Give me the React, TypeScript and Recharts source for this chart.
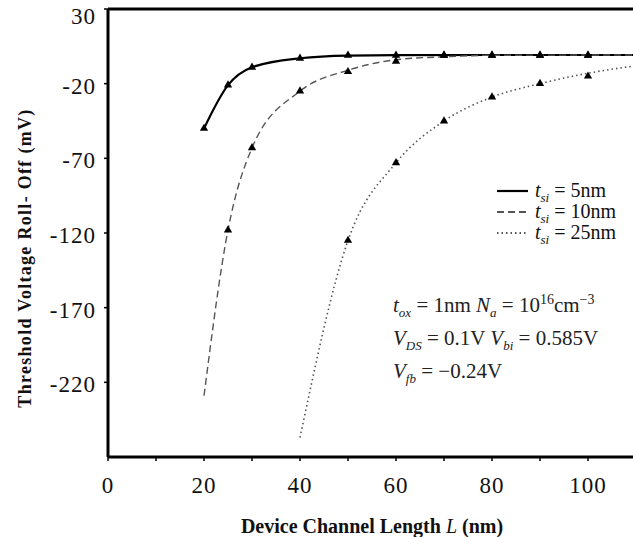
import { ComposedChart, Line, Scatter, XAxis, YAxis, ZAxis, ReferenceLine, Legend, Label } from 'recharts';

const lengthTicks = [0, 10, 20, 30, 40, 50, 60, 70, 80, 90, 100];
const rollTicks = [30, -20, -70, -120, -170, -220];

// simulated points (triangles)
const simLength5 = [20, 25, 30, 40, 50, 60, 70, 80, 90, 100];
const simRoll5 = [-50, -21, -9, -3, -1, -1, -1, -1, -1, -1];
const simLength10 = [25, 30, 40, 50, 60, 70, 80, 90, 100];
const simRoll10 = [-118, -63, -25, -12, -5, -1, -1, -1, -1];
const simLength25 = [50, 60, 70, 80, 90, 100];
const simRoll25 = [-125, -73, -45, -29, -20, -15];

// model curves
const modelLength5 = [20, 25, 30, 40, 50, 60, 80, 110];
const modelRoll5 = [-50, -21, -9, -3, -1.2, -0.9, -0.8, -0.8];
const modelLength10 = [20, 25, 30, 40, 50, 60, 70, 80, 110];
const modelRoll10 = [-229, -118, -63, -25, -11, -4, -2, -1, -0.8];
const modelLength25 = [40, 50, 60, 70, 80, 90, 100, 110];
const modelRoll25 = [-257, -125, -73, -45, -29, -20, -13, -8];

const seriesNames = ['5nm', '10nm', '25nm'];
const seriesDash = ['', '7 4', '1.5 3'];
const seriesColor = ['#000', '#555', '#555'];
const seriesWidth = [2.2, 1.4, 1.6];

const pairs = (xs: number[], ys: number[]) => xs.map((x, i) => ({ x, y: ys[i] }));

const models = [
  pairs(modelLength5, modelRoll5),
  pairs(modelLength10, modelRoll10),
  pairs(modelLength25, modelRoll25),
];
const sims = [
  pairs(simLength5, simRoll5),
  pairs(simLength10, simRoll10),
  pairs(simLength25, simRoll25),
];

const serif = "'Liberation Serif', 'Times New Roman', Times, serif";

const XTick = ({ x, y, payload }: any) =>
  payload.value % 20 === 0 ? (
    <text x={x} y={y + 30} textAnchor="middle" style={{ fontFamily: serif }} fontSize={23} letterSpacing={1} fill="#111">
      {payload.value}
    </text>
  ) : null;

const YTick = ({ x, y, payload }: any) => (
  <text x={x} y={y + (payload.value === 30 ? 15 : 10)} textAnchor="end" style={{ fontFamily: serif }} fontSize={23} letterSpacing={1} fill="#111">
    {payload.value}
  </text>
);

const Sub = ({ children }: any) => (
  <span style={{ fontSize: 13, fontStyle: 'italic', position: 'relative', top: 5, lineHeight: 0 }}>{children}</span>
);
const Sup = ({ children }: any) => (
  <span style={{ fontSize: 14, position: 'relative', top: -8, lineHeight: 0 }}>{children}</span>
);

function LegendBox() {
  return (
    <div style={{ fontFamily: serif, fontSize: 20, color: '#111' }}>
      {seriesNames.map((n, i) => (
        <div key={n} style={{ display: 'flex', alignItems: 'center', height: 21, whiteSpace: 'nowrap' }}>
          <svg width={32} height={10} style={{ marginRight: 6 }}>
            <line x1={0} y1={5} x2={31} y2={5} stroke={seriesColor[i]} strokeWidth={i === 0 ? 2.2 : 2}
              strokeDasharray={seriesDash[i] || undefined} />
          </svg>
          <span>
            <i>t</i><Sub>si</Sub> = {n}
          </span>
        </div>
      ))}
    </div>
  );
}

export default function App() {
  return (
    <div style={{ position: 'absolute', left: 0, top: 0, width: 633, height: 537, overflow: 'hidden', background: '#fff', fontFamily: serif }}>
      <ComposedChart width={636} height={537} margin={{ top: 9, right: 0, left: 0, bottom: 0 }} style={{ fontFamily: serif }}>
        <XAxis
          type="number"
          dataKey="x"
          domain={[0, 110]}
          ticks={lengthTicks}
          interval={0}
          allowDataOverflow
          height={80}
          axisLine={{ stroke: '#000', strokeWidth: 3 }}
          tickLine={{ stroke: '#000', strokeWidth: 1.5 }}
          tickSize={4}
          tick={<XTick />}
        >
          <Label
            content={({ viewBox }: any) => (
              <text x={viewBox.x + viewBox.width / 2} y={viewBox.y + 76} textAnchor="middle"
                style={{ fontFamily: serif }} fontWeight="bold" fontSize={20} fill="#111">
                Device Channel Length <tspan fontStyle="italic" fontWeight="normal">L</tspan> (nm)
              </text>
            )}
          />
        </XAxis>
        <YAxis
          type="number"
          domain={[-270, 30]}
          ticks={rollTicks}
          interval={0}
          allowDataOverflow
          width={108}
          axisLine={{ stroke: '#000', strokeWidth: 3 }}
          tickLine={{ stroke: '#000', strokeWidth: 1.5 }}
          tickSize={4}
          tickMargin={8}
          tick={<YTick />}
        >
          <Label
            content={() => (
              <text x={31} y={258} transform="rotate(-90 31 258)" textAnchor="middle"
                style={{ fontFamily: serif }} fontWeight="bold" fontSize={18} letterSpacing={1.3} fill="#111">
                Threshold Voltage Roll- Off (mV)
              </text>
            )}
          />
        </YAxis>
        <ZAxis range={[30, 30]} />
        <ReferenceLine y={30} stroke="#000" strokeWidth={3} />
        {models.map((d, i) => (
          <Line
            key={'m' + i}
            data={d}
            dataKey="y"
            type="monotone"
            stroke={seriesColor[i]}
            strokeWidth={seriesWidth[i]}
            strokeDasharray={seriesDash[i] || undefined}
            dot={false}
            activeDot={false}
            legendType="none"
            isAnimationActive={false}
          />
        ))}
        {sims.map((d, i) => (
          <Scatter
            key={'s' + i}
            data={d}
            dataKey="y"
            shape="triangle"
            fill="#000"
            legendType="none"
            isAnimationActive={false}
          />
        ))}
        <Legend
          layout="vertical"
          align="center"
          verticalAlign="middle"
          content={() => <LegendBox />}
          wrapperStyle={{ position: 'absolute', left: 497, top: 180, width: 140 }}
        />
      </ComposedChart>
      <div style={{ position: 'absolute', left: 393, top: 289, fontFamily: serif, fontSize: 21, color: '#222', lineHeight: '33px', whiteSpace: 'nowrap' }}>
        <div>
          <i>t</i><Sub>ox</Sub> = 1nm <i>N</i><Sub>a</Sub> = 10<Sup>16</Sup>cm<Sup>−3</Sup>
        </div>
        <div>
          <i>V</i><Sub>DS</Sub> = 0.1V <i>V</i><Sub>bi</Sub> = 0.585V
        </div>
        <div>
          <i>V</i><Sub>fb</Sub> = −0.24V
        </div>
      </div>
    </div>
  );
}
